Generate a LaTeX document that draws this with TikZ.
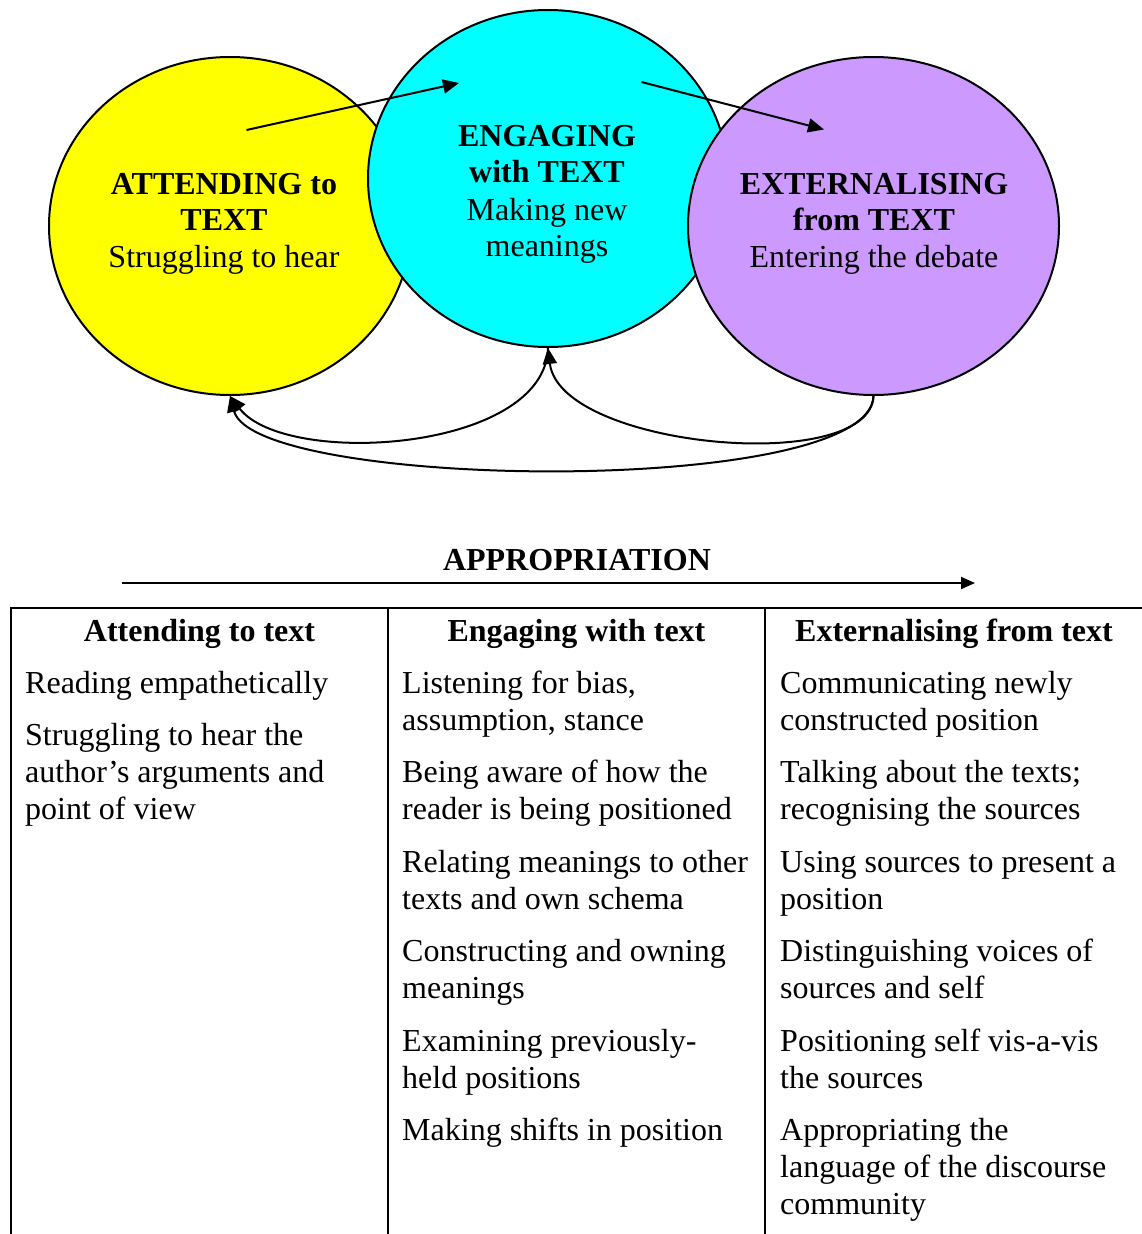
\documentclass[tikz,border=0pt]{standalone}
\usepackage{fontspec}
\setmainfont{Liberation Serif}
\usetikzlibrary{shapes.geometric,arrows.meta}
\definecolor{yel}{HTML}{FFFF00}
\definecolor{cya}{HTML}{00FFFF}
\definecolor{purp}{HTML}{CC99FF}
\begin{document}
\begin{tikzpicture}[x=1pt,y=-1pt,
  stage/.style={draw,ellipse,line width=2pt,inner sep=0pt},
  lbl/.style={anchor=base,inner sep=0pt,font=\fontsize{32pt}{37pt}\selectfont},
  bl/.style={anchor=base,inner sep=0pt,font=\fontsize{32pt}{37pt}\selectfont\bfseries},
  cell/.style={anchor=base west,inner sep=0pt,font=\fontsize{32pt}{37pt}\selectfont},
  flow/.style={line width=2pt,-{Triangle[length=16pt,width=14pt]}},
  rule/.style={line width=2pt}]
\useasboundingbox (0,0) rectangle (1141,1234);

% the three stages
\node[stage,fill=yel,minimum width=362pt,minimum height=338pt] (att) at (230,226) {};
\node[stage,fill=cya,minimum width=360pt,minimum height=337pt] (eng) at (548,178.5) {};
\node[stage,fill=purp,minimum width=371pt,minimum height=338pt] (ext) at (873.5,226) {};

\node[bl]  (att1) at (224,194) {ATTENDING to};
\node[bl]  (att2) at (224,230) {TEXT};
\node[lbl] (att3) at (224,267) {Struggling to hear};

\node[bl]  (eng1) at (547,146) {ENGAGING};
\node[bl]  (eng2) at (547,182) {with TEXT};
\node[lbl] (eng3) at (547,220) {Making new};
\node[lbl] (eng4) at (547,256) {meanings};

\node[bl]  (ext1) at (874,194) {EXTERNALISING};
\node[bl]  (ext2) at (874,230) {from TEXT};
\node[lbl] (ext3) at (874,267) {Entering the debate};

% forward arrows
\coordinate (s1) at (246.5,130); \coordinate (e1) at (459,83);
\draw[flow] (s1) -- (e1);
\coordinate (s2) at (641.5,82); \coordinate (e2) at (824,129.5);
\draw[flow] (s2) -- (e2);

% feedback loops
\draw[flow] (ext.south) .. controls (870,476) and (560,448) .. (eng.south);
\draw[flow] (eng.south) .. controls (545,452) and (285,468) .. (att.south);
\draw[flow] (ext.south) .. controls (870,498) and (255,490) .. (att.south);

% appropriation axis
\node[bl] (appr) at (577,570) {APPROPRIATION};
\coordinate (ap0) at (122,583); \coordinate (ap1) at (975,583);
\draw[line width=2pt,-{Triangle[length=14pt,width=12pt]}] (ap0) -- (ap1);

% table
\draw[rule] (11,1240) -- (11,608) -- (1145,608);
\draw[rule] (388,608) -- (388,1240);
\draw[rule] (765,608) -- (765,1240);

\node[bl] (h1) at (199.5,641) {Attending to text};
\node[bl] (h2) at (576.5,641) {Engaging with text};
\node[bl] (h3) at (954,641) {Externalising from text};

% column 1
\node[cell] (a1) at (25,693) {Reading empathetically};
\node[cell] (a2) at (25,745.5) {Struggling to hear the};
\node[cell] (a3) at (25,782.5) {author’s arguments and};
\node[cell] (a4) at (25,819.5) {point of view};

% column 2
\node[cell] (b1) at (402,693) {Listening for bias,};
\node[cell] (b2) at (402,730) {assumption, stance};
\node[cell] (b3) at (402,782.5) {Being aware of how the};
\node[cell] (b4) at (402,819.5) {reader is being positioned};
\node[cell] (b5) at (402,872) {Relating meanings to other};
\node[cell] (b6) at (402,909) {texts and own schema};
\node[cell] (b7) at (402,961.5) {Constructing and owning};
\node[cell] (b8) at (402,998.5) {meanings};
\node[cell] (b9) at (402,1051) {Examining previously-};
\node[cell] (b10) at (402,1088) {held positions};
\node[cell] (b11) at (402,1140.5) {Making shifts in position};

% column 3
\node[cell] (c1) at (780,693) {Communicating newly};
\node[cell] (c2) at (780,730) {constructed position};
\node[cell] (c3) at (780,782.5) {Talking about the texts;};
\node[cell] (c4) at (780,819.5) {recognising the sources};
\node[cell] (c5) at (780,872) {Using sources to present a};
\node[cell] (c6) at (780,909) {position};
\node[cell] (c7) at (780,961.5) {Distinguishing voices of};
\node[cell] (c8) at (780,998.5) {sources and self};
\node[cell] (c9) at (780,1051) {Positioning self vis-a-vis};
\node[cell] (c10) at (780,1088) {the sources};
\node[cell] (c11) at (780,1140.5) {Appropriating the};
\node[cell] (c12) at (780,1177.5) {language of the discourse};
\node[cell] (c13) at (780,1214.5) {community};
\end{tikzpicture}
\end{document}
